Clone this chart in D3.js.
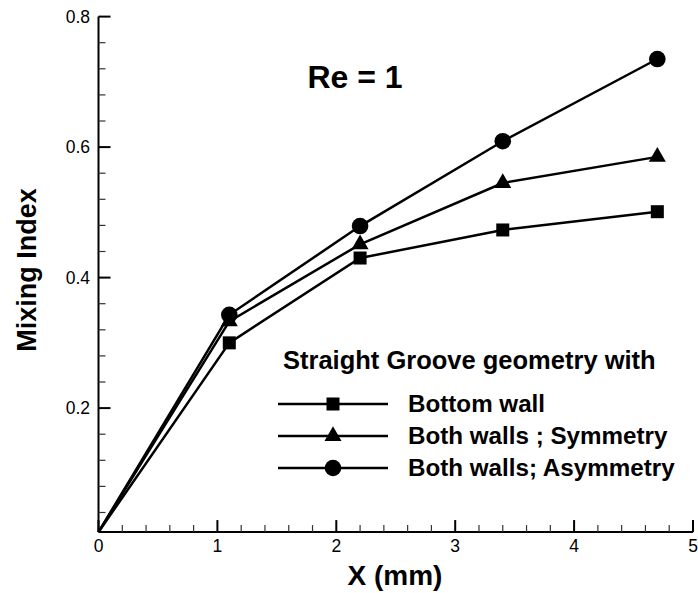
<!DOCTYPE html>
<html>
<head>
<meta charset="utf-8">
<script src="https://cdn.jsdelivr.net/npm/d3@7"></script>
<style>
  body { margin: 0; background: #fff; }
  text { font-family: "Liberation Sans", Arial, sans-serif; fill: #000; }
</style>
</head>
<body>
<div id="chart"></div>
<script>
// values
var xValues = [0, 1.1, 2.2, 3.4, 4.7];
var bottomWall = [0.01, 0.30, 0.430, 0.473, 0.501];
var bothSym = [0.01, 0.333, 0.451, 0.545, 0.585];
var bothAsym = [0.01, 0.343, 0.479, 0.609, 0.735];
var seriesNames = ["Bottom wall", "Both walls ; Symmetry", "Both walls; Asymmetry"];
var seriesShapes = ["square", "triangle", "circle"];
var xTicks = [0, 1, 2, 3, 4, 5];
var yTicks = [0.2, 0.4, 0.6, 0.8];
var yMin = 0.01;

var width = 698, height = 593;

var svg = d3.select("#chart").append("svg")
    .attr("width", width)
    .attr("height", height);

var x = d3.scaleLinear().domain([0, 5]).range([98.5, 693]);
var y = d3.scaleLinear().domain([0, 0.8]).range([538.6, 16.6]);

var axisColor = "#000";

// y axis line
svg.append("line")
    .attr("x1", x(0)).attr("x2", x(0))
    .attr("y1", y(yMin)).attr("y2", y(0.8))
    .attr("stroke", axisColor).attr("stroke-width", 2);

// x axis line
svg.append("line")
    .attr("x1", x(0)).attr("x2", x(5))
    .attr("y1", y(yMin)).attr("y2", y(yMin))
    .attr("stroke", axisColor).attr("stroke-width", 2);

// minor ticks (pointing inward)
var yMinor = d3.range(1, 20).map(function(i) { return i * 0.04; })
    .filter(function(v) { return Math.abs(v / 0.2 - Math.round(v / 0.2)) > 1e-6; });
svg.selectAll(".yminor").data(yMinor).enter().append("line")
    .attr("x1", x(0)).attr("x2", x(0) + 7)
    .attr("y1", function(d) { return y(d); })
    .attr("y2", function(d) { return y(d); })
    .attr("stroke", "#333").attr("stroke-width", 1.2);

svg.selectAll(".ymajor").data(yTicks).enter().append("line")
    .attr("x1", x(0)).attr("x2", x(0) + 12)
    .attr("y1", function(d) { return y(d); })
    .attr("y2", function(d) { return y(d); })
    .attr("stroke", axisColor).attr("stroke-width", 2);

svg.selectAll(".ylab").data(yTicks).enter().append("text")
    .attr("x", 90)
    .attr("y", function(d) { return y(d) + 6; })
    .attr("text-anchor", "end")
    .style("font-size", "17.5px")
    .text(function(d) { return d3.format(".1f")(d); });

var xMinor = d3.range(1, 25).map(function(i) { return i * 0.2; })
    .filter(function(v) { return Math.abs(v - Math.round(v)) > 1e-6; });
svg.selectAll(".xminor").data(xMinor).enter().append("line")
    .attr("x1", function(d) { return x(d); })
    .attr("x2", function(d) { return x(d); })
    .attr("y1", y(yMin)).attr("y2", y(yMin) - 7)
    .attr("stroke", "#333").attr("stroke-width", 1.2);

svg.selectAll(".xmajor").data(xTicks).enter().append("line")
    .attr("x1", function(d) { return x(d); })
    .attr("x2", function(d) { return x(d); })
    .attr("y1", y(yMin)).attr("y2", y(yMin) - 12)
    .attr("stroke", axisColor).attr("stroke-width", 2);

svg.selectAll(".xlab").data(xTicks).enter().append("text")
    .attr("x", function(d) { return x(d); })
    .attr("y", 552)
    .attr("text-anchor", "middle")
    .style("font-size", "17.5px")
    .text(function(d) { return d; });

// axis titles
svg.append("text")
    .attr("x", 395).attr("y", 585)
    .attr("text-anchor", "middle")
    .style("font-size", "28px").style("font-weight", "bold")
    .text("X (mm)");

svg.append("text")
    .attr("transform", "translate(36,270) rotate(-90)")
    .attr("text-anchor", "middle")
    .style("font-size", "27px").style("font-weight", "bold")
    .text("Mixing Index");

svg.append("text")
    .attr("x", 355).attr("y", 88)
    .attr("text-anchor", "middle")
    .style("font-size", "32px").style("font-weight", "bold")
    .text("Re = 1");

// series
var allSeries = [bottomWall, bothSym, bothAsym];
var line = d3.line()
    .x(function(d, i) { return x(xValues[i]); })
    .y(function(d) { return y(d); });

function drawMarker(g, shape, cx, cy) {
  if (shape === "square") {
    g.append("rect")
      .attr("x", cx - 6.5).attr("y", cy - 6.5)
      .attr("width", 13).attr("height", 13)
      .attr("fill", "#000");
  } else if (shape === "triangle") {
    g.append("path")
      .attr("d", d3.symbol().type(d3.symbolTriangle).size(125)())
      .attr("transform", "translate(" + cx + "," + cy + ")")
      .attr("fill", "#000");
  } else {
    g.append("circle")
      .attr("cx", cx).attr("cy", cy).attr("r", 8.3)
      .attr("fill", "#000");
  }
}

allSeries.forEach(function(s, k) {
  svg.append("path")
    .datum(s)
    .attr("d", line)
    .attr("fill", "none")
    .attr("stroke", "#000")
    .attr("stroke-width", 2.5);
  var g = svg.append("g");
  s.forEach(function(v, i) {
    if (i === 0) return;
    drawMarker(g, seriesShapes[k], x(xValues[i]), y(v));
  });
});

// legend
svg.append("text")
    .attr("x", 283).attr("y", 369)
    .style("font-size", "25.5px").style("font-weight", "bold")
    .text("Straight Groove geometry with");

var legendY = [404, 436, 468];
seriesNames.forEach(function(name, k) {
  var ly = legendY[k];
  svg.append("line")
    .attr("x1", 278).attr("x2", 388)
    .attr("y1", ly).attr("y2", ly)
    .attr("stroke", "#000").attr("stroke-width", 2.5);
  drawMarker(svg, seriesShapes[k], 333, ly);
  svg.append("text")
    .attr("x", 408).attr("y", ly + 8)
    .style("font-size", "24.2px").style("font-weight", "bold")
    .text(name);
});
</script>
</body>
</html>
